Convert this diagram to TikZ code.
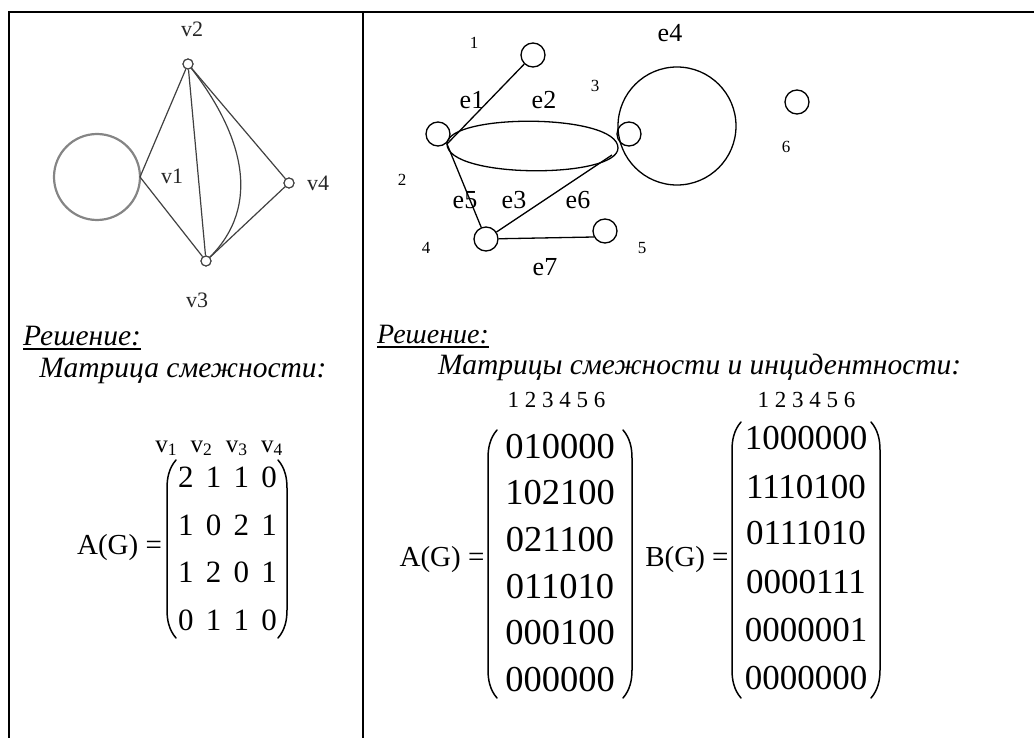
\documentclass[tikz,border=0pt]{standalone}
\usepackage{fontspec}
\setmainfont{Liberation Serif}
\definecolor{gline}{HTML}{404040}
\definecolor{loopgray}{HTML}{858585}
\newcommand\myLpar[3]{\draw[paren] (#1+9,#2) .. controls (#1+2,#2+8) and (#1,#2+18) .. (#1,#2+28) -- (#1,#3-28) .. controls (#1,#3-18) and (#1+2,#3-8) .. (#1+9,#3);}
\newcommand\myRpar[3]{\draw[paren] (#1-9,#2) .. controls (#1-2,#2+8) and (#1,#2+18) .. (#1,#2+28) -- (#1,#3-28) .. controls (#1,#3-18) and (#1-2,#3-8) .. (#1-9,#3);}
\newcommand\gp{\hspace{12.3pt}}
\newcommand\vg{\hspace{13.5pt}}
\begin{document}
\begin{tikzpicture}[x=1pt,y=-1pt,
  frame/.style={line width=2pt},
  lv/.style={circle, draw=gline, fill=white, line width=1.1pt, minimum size=10pt, inner sep=0pt},
  ledge/.style={draw=gline, line width=1.2pt},
  lloop/.style={draw=loopgray, line width=2.2pt},
  llab/.style={font=\fontsize{22}{24}\selectfont, inner sep=0pt, text=black!85},
  rv/.style={circle, draw, line width=1.3pt, minimum size=24pt, inner sep=0pt},
  redge/.style={line width=1.3pt},
  nlab/.style={font=\fontsize{17}{20}\selectfont, inner sep=0pt},
  elab/.style={font=\fontsize{26}{28}\selectfont, inner sep=0pt},
  hdL/.style={font=\fontsize{29.5}{32}\selectfont\itshape, inner sep=0pt},
  hdR/.style={font=\fontsize{28}{32}\selectfont\itshape, inner sep=0pt},
  uline/.style={line width=1.8pt},
  colhd/.style={font=\fontsize{23}{26}\selectfont, inner sep=0pt},
  mrowL/.style={font=\fontsize{31}{34}\selectfont, inner sep=0pt},
  mrowA/.style={font=\fontsize{36.5}{40}\selectfont, inner sep=0pt},
  mrowB/.style={font=\fontsize{35}{40}\selectfont, inner sep=0pt},
  eqlab/.style={font=\fontsize{29}{32}\selectfont, inner sep=0pt},
  paren/.style={line width=1.5pt, line cap=round}
]
\useasboundingbox (0,0) rectangle (1034,738);
% frame
\draw[frame] (9,738) -- (9,12) -- (1034,12);
\draw[frame] (363,12) -- (363,738);

% ---------- left graph ----------
\coordinate (v1) at (140,177);
\node[lv] (v2) at (188,64) {};
\node[lv] (v3) at (206,261) {};
\node[lv] (v4) at (289,183) {};
\draw[lloop] (v1) arc[start angle=0, end angle=360, radius=43];
\draw[ledge] (v1) -- (v2);
\draw[ledge] (v1) -- (v3);
\draw[ledge] (v2) -- (v3);
\draw[ledge] (v2) .. controls (243,135) and (262,205) .. (v3);
\draw[ledge] (v2) -- (v4);
\draw[ledge] (v4) -- (v3);
\node[lv] at (v2) {};
\node[lv] at (v3) {};
\node[lv] at (v4) {};
\node[llab] (lv2) at (192,29) {v2};
\node[llab] (lv3) at (197,300) {v3};
\node[llab] (lv4) at (318,183) {v4};
\node[llab] (lv1) at (172,176) {v1};

% ---------- right graph ----------
\node[rv] (n1) at (533,55) {};
\node[rv] (n2) at (438,134) {};
\node[rv] (n3) at (629,134) {};
\node[rv] (n4) at (486,239) {};
\node[rv] (n5) at (605,231) {};
\node[rv] (n6) at (797,102) {};
\coordinate (p2) at (447,144);
\coordinate (p3) at (618,148);
\coordinate (p6) at (612,155);
\coordinate (p5) at (594,237);
\coordinate (l3) at (618,126);
\draw[redge] (p2) .. controls (447,113) and (618,113) .. (p3);
\draw[redge] (p2) .. controls (447,179) and (618,179) .. (p3);
\draw[redge] (l3) arc[start angle=180, end angle=-180, radius=59];
\draw[redge] (p2) -- (n1);
\draw[redge] (p2) -- (n4);
\draw[redge] (p6) -- (n4);
\draw[redge] (n4) -- (p5);
\node[nlab] (t1) at (474,43) {1};
\node[nlab] (t2) at (402,180) {2};
\node[nlab] (t3) at (595,86) {3};
\node[nlab] (t4) at (426,248) {4};
\node[nlab] (t5) at (642,248) {5};
\node[nlab] (t6) at (786,147) {6};
\node[elab] (e4) at (670,33) {e4};
\node[elab] (e1) at (472,100) {e1};
\node[elab] (e2) at (544,100) {e2};
\node[elab] (e5) at (465,200) {e5};
\node[elab] (e3) at (514,200) {e3};
\node[elab] (e6) at (578,200) {e6};
\node[elab] (e7) at (545,267) {e7};

% ---------- left text ----------
\node[hdL, anchor=base west] (sol1) at (23,345) {Решение:};
\draw[uline] ([yshift=-4pt]sol1.base west) -- ([yshift=-4pt]sol1.base east);
\node[hdL, anchor=base] (mat1) at (183,377) {Матрица смежности:};
\node[font=\fontsize{25}{28}\selectfont, inner sep=0pt, anchor=base] (vh) at (219,452)
  {v\textsubscript{1}\vg v\textsubscript{2}\vg v\textsubscript{3}\vg v\textsubscript{4}};
\node[eqlab] (ag1) at (119.5,548) {A(G) =};
\node[mrowL] (r11) at (227.5,477) {2\gp 1\gp 1\gp 0};
\node[mrowL] (r12) at (227.5,525) {1\gp 0\gp 2\gp 1};
\node[mrowL] (r13) at (227.5,572) {1\gp 2\gp 0\gp 1};
\node[mrowL] (r14) at (227.5,620) {0\gp 1\gp 1\gp 0};
\myLpar{167}{460}{638}
\myRpar{287}{460}{638}

% ---------- right text ----------
\node[hdR, anchor=base west] (sol2) at (377,343) {Решение:};
\draw[uline] ([yshift=-4pt]sol2.base west) -- ([yshift=-4pt]sol2.base east);
\node[hdL, anchor=base west] (mat2) at (438,374) {Матрицы смежности и инцидентности:};
\node[colhd] (ch1) at (556.5,400) {1 2 3 4 5 6};
\node[colhd] (ch2) at (806.5,400) {1 2 3 4 5 6};
\node[eqlab] (ag2) at (442,560) {A(G) =};
\node[eqlab] (bg2) at (687,560) {B(G) =};
\node[mrowA] (a1) at (560,447) {010000};
\node[mrowA] (a2) at (560,493) {102100};
\node[mrowA] (a3) at (560,540) {021100};
\node[mrowA] (a4) at (560,587) {011010};
\node[mrowA] (a5) at (560,633) {000100};
\node[mrowA] (a6) at (560,680) {000000};
\myLpar{488}{430}{698}
\myRpar{632}{430}{698}
\node[mrowB] (b1) at (806,438) {1000000};
\node[mrowB] (b2) at (806,487) {1110100};
\node[mrowB] (b3) at (806,533) {0111010};
\node[mrowB] (b4) at (806,582) {0000111};
\node[mrowB] (b5) at (806,630) {0000001};
\node[mrowB] (b6) at (806,678) {0000000};
\myLpar{732}{422}{698}
\myRpar{880}{422}{698}
\end{tikzpicture}
\end{document}
